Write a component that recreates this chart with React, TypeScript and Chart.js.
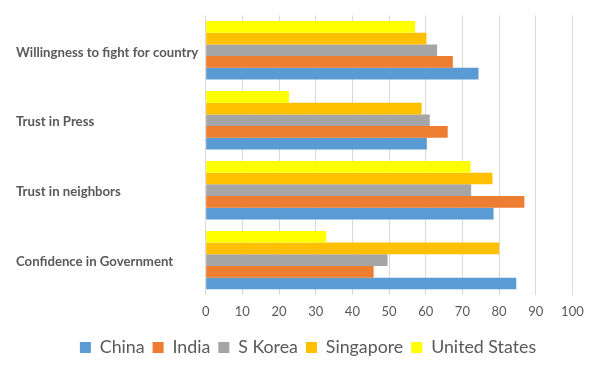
import React, { useEffect, useRef } from "react";
import { Chart, registerables } from "chart.js";

Chart.register(...registerables);

const categories = [
  "Willingness to fight for country",
  "Trust in Press",
  "Trust in neighbors",
  "Confidence in Government",
];

const china = [74.4, 60.3, 78.5, 84.7];
const india = [67.4, 66.0, 86.9, 45.8];
const sKorea = [63.1, 61.1, 72.4, 49.6];
const singapore = [60.2, 58.9, 78.2, 80.0];
const unitedStates = [57.1, 22.7, 72.2, 32.9];

const xTicks = [0, 10, 20, 30, 40, 50, 60, 70, 80, 90, 100];

export default function App() {
  const ref = useRef<HTMLCanvasElement | null>(null);

  useEffect(() => {
    if (!ref.current) return;
    const textColor = "#595959";
    const chart = new Chart(ref.current, {
      type: "bar",
      data: {
        labels: categories,
        datasets: [
          { label: "United States", data: unitedStates, backgroundColor: "#FFFF00" },
          { label: "Singapore", data: singapore, backgroundColor: "#FFC000" },
          { label: "S Korea", data: sKorea, backgroundColor: "#A5A5A5" },
          { label: "India", data: india, backgroundColor: "#ED7D31" },
          { label: "China", data: china, backgroundColor: "#5B9BD5" },
        ],
      },
      options: {
        indexAxis: "y",
        responsive: false,
        animation: false,
        layout: { padding: { left: 16, right: 0, top: 15.3, bottom: 6.5 } },
        datasets: {
          bar: { barPercentage: 1, categoryPercentage: 0.835, borderWidth: 0 },
        },
        scales: {
          x: {
            min: 0,
            max: 100,
            afterBuildTicks: (scale: any) => {
              scale.ticks = xTicks.map((v) => ({ value: v }));
            },
            afterFit: (scale: any) => {
              scale.height = scale.height + 2;
            },
            grid: { color: "#D9D9D9", drawTicks: false, lineWidth: 1 },
            border: { display: false },
            ticks: {
              color: textColor,
              padding: 9,
              font: { family: "Lato", size: 13 },
            },
          },
          y: {
            grid: { display: false },
            border: { display: false },
            afterFit: (scale: any) => {
              scale.width = 189.7;
            },
            ticks: {
              crossAlign: "far",
              color: textColor,
              padding: 0,
              labelOffset: 2,
              font: { family: "Lato", size: 13.2, weight: "bold" },
            },
          },
          yRight: {
            type: "linear",
            position: "right",
            display: true,
            grid: { display: false },
            border: { display: false },
            ticks: { display: false },
            afterFit: (scale: any) => {
              scale.width = 27.6;
            },
          },
        },
        plugins: {
          legend: {
            position: "bottom",
            reverse: true,
            labels: {
              boxWidth: 11,
              boxHeight: 11,
              padding: 8,
              color: textColor,
              font: { family: "Lato", size: 17.8 },
            },
          },
          tooltip: { enabled: false },
        },
      },
    });
    return () => chart.destroy();
  }, []);

  return (
    <div style={{ position: "fixed", left: 0, top: 0, width: 600, height: 373, background: "#fff" }}>
      <canvas ref={ref} width={600} height={373} />
    </div>
  );
}
